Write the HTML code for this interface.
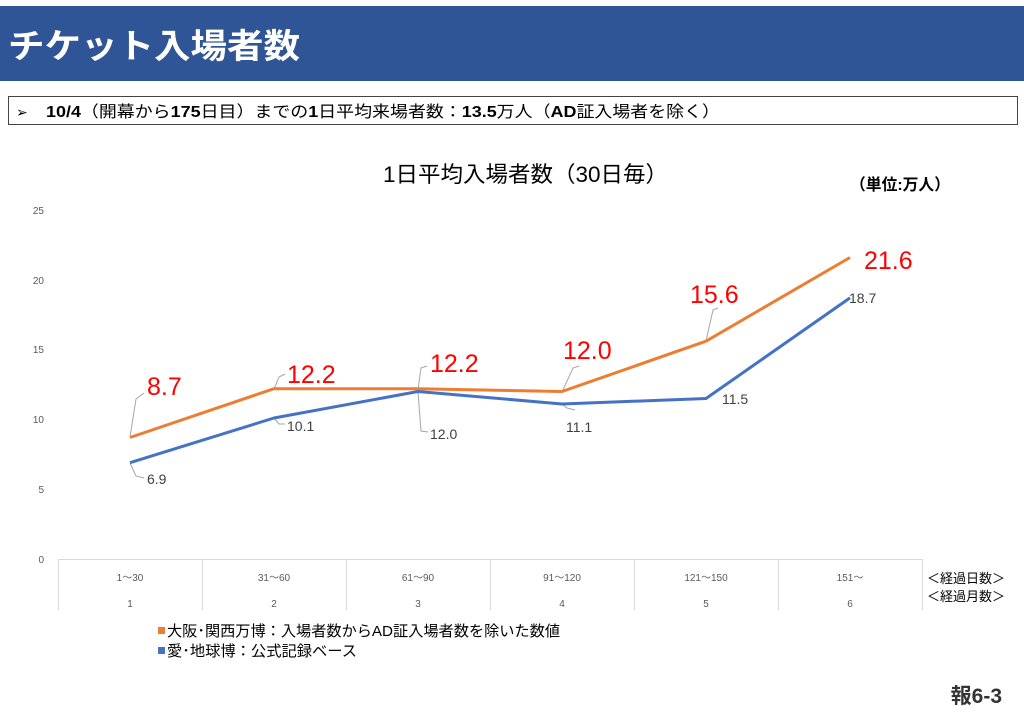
<!DOCTYPE html>
<html><head><meta charset="utf-8"><style>
body{margin:0;width:1024px;height:720px;background:#fff;overflow:hidden;font-family:"Liberation Sans","Noto Sans CJK JP",sans-serif;}
</style></head><body>
<svg width="1024" height="720" xmlns="http://www.w3.org/2000/svg" style="position:absolute;left:0;top:0;font-family:'Liberation Sans','Noto Sans CJK JP',sans-serif">
<rect x="0" y="6" width="1024" height="75" fill="#2F5597"/>
<text x="8" y="58" font-size="34" font-weight="bold" fill="#fff" textLength="292" lengthAdjust="spacingAndGlyphs">チケット入場者数</text>
<rect x="8.5" y="96.5" width="1009" height="28" fill="#fff" stroke="#444" stroke-width="1"/>
<text x="16" y="117" font-size="14" fill="#000">➢</text>
<text x="46" y="117" font-size="16" fill="#000" textLength="674" lengthAdjust="spacingAndGlyphs"><tspan font-weight="bold">10/4</tspan>（開幕から<tspan font-weight="bold">175</tspan>日目）までの<tspan font-weight="bold">1</tspan>日平均来場者数：<tspan font-weight="bold">13.5</tspan>万人（<tspan font-weight="bold">AD</tspan>証入場者を除く）</text>
<text x="383" y="182" font-size="22" fill="#000" textLength="285" lengthAdjust="spacingAndGlyphs">1日平均入場者数（30日毎）</text>
<text x="850" y="190" font-size="16" font-weight="bold" fill="#000" textLength="100" lengthAdjust="spacingAndGlyphs">（単位:万人）</text>
<g font-size="10" fill="#595959" text-anchor="end">
<text x="44" y="563">0</text><text x="44" y="493">5</text><text x="44" y="423">10</text><text x="44" y="353">15</text><text x="44" y="284">20</text><text x="44" y="214">25</text>
</g>
<g stroke="#d9d9d9" stroke-width="1">
<line x1="58" y1="559.5" x2="922" y2="559.5"/>
<line x1="58.5" y1="559" x2="58.5" y2="610"/><line x1="202.5" y1="559" x2="202.5" y2="610"/><line x1="346.5" y1="559" x2="346.5" y2="610"/><line x1="490.5" y1="559" x2="490.5" y2="610"/><line x1="634.5" y1="559" x2="634.5" y2="610"/><line x1="778.5" y1="559" x2="778.5" y2="610"/><line x1="922.5" y1="559" x2="922.5" y2="610"/>
</g>
<g font-size="10" fill="#595959" text-anchor="middle">
<text x="130" y="581">1～30</text><text x="274" y="581">31～60</text><text x="418" y="581">61～90</text><text x="562" y="581">91～120</text><text x="706" y="581">121～150</text><text x="850" y="581">151～</text>
<text x="130" y="607">1</text><text x="274" y="607">2</text><text x="418" y="607">3</text><text x="562" y="607">4</text><text x="706" y="607">5</text><text x="850" y="607">6</text>
</g>
<text x="927" y="583" font-size="13" fill="#000">＜経過日数＞</text>
<text x="927" y="601" font-size="13" fill="#000">＜経過月数＞</text>
<g stroke="#a6a6a6" stroke-width="1" fill="none">
<polyline points="130,437 136,399 144,393"/>
<polyline points="274,389 279,377 285,374"/>
<polyline points="418,390 421,368 427,366"/>
<polyline points="562,392 573,368 579,366"/>
<polyline points="706,341 713,310 718,308"/>
<polyline points="130,463 136,476 144,478"/>
<polyline points="274,418 279,424 285,424"/>
<polyline points="418,392 421,431 428,432"/>
<polyline points="562,404 567,408 575,410"/>
</g>
<polyline points="130,437.5 274,388.7 418,388.7 562,391.5 706,341.2 850,257.5" fill="none" stroke="#ED7D31" stroke-width="3" stroke-linejoin="round"/>
<polyline points="130,462.7 274,418 418,391.5 562,404 706,398.5 850,297.9" fill="none" stroke="#4472C4" stroke-width="3" stroke-linejoin="round"/>
<g font-size="25" fill="#FF0000">
<text x="147" y="395">8.7</text><text x="287" y="383">12.2</text><text x="430" y="372">12.2</text><text x="563" y="359">12.0</text><text x="690" y="303">15.6</text><text x="864" y="269">21.6</text>
</g>
<g font-size="14" fill="#404040">
<text x="147" y="484">6.9</text><text x="287" y="431">10.1</text><text x="430" y="439">12.0</text><text x="566" y="432">11.1</text><text x="722" y="404">11.5</text><text x="849" y="303">18.7</text>
</g>
<rect x="158" y="627" width="7" height="7" fill="#ED7D31"/>
<text x="167" y="636" font-size="15" fill="#000" textLength="393" lengthAdjust="spacingAndGlyphs">大阪･関西万博：入場者数からAD証入場者数を除いた数値</text>
<rect x="158" y="647" width="7" height="7" fill="#4472C4"/>
<text x="167" y="656" font-size="15" fill="#000" textLength="190" lengthAdjust="spacingAndGlyphs">愛･地球博：公式記録ベース</text>
<text x="1002" y="703" font-size="21" font-weight="bold" text-anchor="end" fill="#333">報6-3</text>
</svg>
</body></html>
